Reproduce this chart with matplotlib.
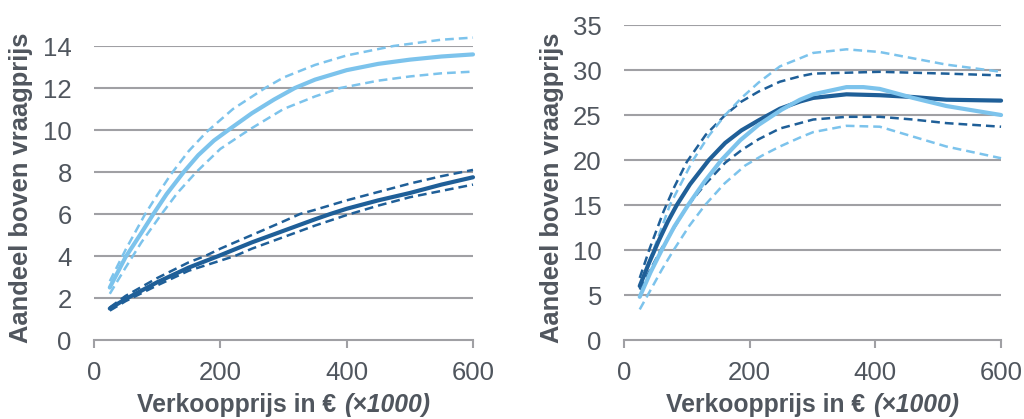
import matplotlib.pyplot as plt
from matplotlib.offsetbox import TextArea, HPacker, AnchoredOffsetbox

plt.rcParams['font.family'] = ['Liberation Sans', 'DejaVu Sans']

LIGHT = '#7cc3ec'
DARK = '#1f5f98'
TEXT = '#50565e'
GRID = '#a0a0a4'

# left panel
l_light_x = [25, 50, 75, 94, 115, 142, 165, 190, 215, 250, 285, 318, 350, 400, 450, 500, 550, 600]
l_light = [2.5, 3.95, 5.1, 6.0, 6.95, 8.0, 8.8, 9.5, 10.05, 10.8, 11.45, 12.0, 12.4, 12.85, 13.15, 13.35, 13.5, 13.6]
l_light_hi_x = [25, 50, 81, 100, 122, 150, 178, 220, 271, 300, 350, 400, 474, 550, 600]
l_light_hi = [2.8, 4.3, 6.0, 6.9, 7.9, 9.0, 9.9, 11.0, 12.0, 12.5, 13.1, 13.55, 14.0, 14.3, 14.4]
l_light_lo_x = [25, 50, 75, 107, 132, 162, 200, 245, 300, 350, 390, 450, 500, 550, 600]
l_light_lo = [2.2, 3.45, 4.65, 6.0, 7.0, 8.0, 9.1, 10.0, 11.0, 11.6, 12.0, 12.35, 12.55, 12.7, 12.78]

l_dark_x = [25, 50, 100, 150, 197, 250, 300, 350, 374, 400, 450, 500, 550, 600]
l_dark = [1.5, 1.95, 2.75, 3.45, 4.0, 4.65, 5.2, 5.75, 6.0, 6.25, 6.65, 7.0, 7.4, 7.75]
l_dark_hi_x = [25, 50, 100, 150, 176, 200, 250, 300, 326, 350, 400, 450, 500, 550, 600]
l_dark_hi = [1.55, 2.1, 2.95, 3.7, 4.0, 4.35, 5.0, 5.65, 6.0, 6.2, 6.65, 7.05, 7.45, 7.8, 8.1]
l_dark_lo_x = [25, 50, 100, 150, 223, 250, 300, 350, 400, 450, 500, 550, 600]
l_dark_lo = [1.4, 1.85, 2.6, 3.3, 4.0, 4.35, 4.9, 5.45, 5.95, 6.4, 6.8, 7.1, 7.4]

# right panel
r_dark_x = [25, 40, 55, 70, 84, 105, 135, 161, 187, 214, 248, 280, 301, 354, 407, 460, 513, 600]
r_dark = [6.0, 8.6, 11.0, 13.2, 15.0, 17.3, 20.0, 21.9, 23.3, 24.4, 25.7, 26.5, 26.9, 27.3, 27.2, 27.0, 26.7, 26.6]
r_dark_hi_x = [25, 41, 63, 80, 100, 130, 161, 187, 214, 248, 280, 301, 354, 407, 460, 513, 600]
r_dark_hi = [6.9, 10.2, 14.3, 17.0, 19.8, 22.8, 25.0, 26.5, 27.6, 28.7, 29.3, 29.6, 29.7, 29.8, 29.7, 29.6, 29.4]
r_dark_lo_x = [25, 60, 100, 129, 161, 187, 214, 248, 280, 301, 354, 407, 460, 513, 600]
r_dark_lo = [5.6, 10.2, 14.8, 17.3, 19.7, 21.1, 22.3, 23.5, 24.1, 24.5, 24.8, 24.8, 24.5, 24.1, 23.7]

r_light_x = [25, 42, 60, 80, 102, 128, 155, 185, 214, 251, 280, 301, 354, 381, 407, 460, 513, 600]
r_light = [4.8, 7.5, 10.0, 12.6, 15.0, 17.6, 20.0, 22.2, 23.9, 25.6, 26.7, 27.3, 28.1, 28.1, 27.9, 26.9, 26.0, 25.0]
r_light_hi_x = [25, 35, 47, 73, 110, 135, 161, 187, 214, 248, 280, 301, 354, 407, 460, 513, 600]
r_light_hi = [5.8, 7.8, 10.0, 15.0, 20.0, 22.7, 25.0, 26.9, 28.6, 30.4, 31.3, 31.9, 32.3, 32.0, 31.3, 30.6, 29.8]
r_light_lo_x = [25, 41, 60, 79, 104, 129, 160, 193, 220, 248, 280, 301, 354, 407, 460, 513, 600]
r_light_lo = [3.4, 5.4, 7.8, 10.0, 12.7, 15.0, 17.4, 19.4, 20.5, 21.5, 22.5, 23.1, 23.8, 23.7, 22.6, 21.5, 20.2]

xticks = [0, 200, 400, 600]
xlabel_main = 'Verkoopprijs in €'
xlabel_unit = '(×1000)'
ylabel = 'Aandeel boven vraagprijs'

fig = plt.figure(figsize=(10.24, 4.19), dpi=100)
ax1 = fig.add_axes([0.0918, 0.1885, 0.3701, 0.7017])
ax2 = fig.add_axes([0.6094, 0.1885, 0.3682, 0.7518])

dash = (0, (3.5, 2))
panels = [
    (ax1, 14, 2, 0.519, [(l_light_x, l_light, l_light_hi_x, l_light_hi, l_light_lo_x, l_light_lo, LIGHT),
                         (l_dark_x, l_dark, l_dark_hi_x, l_dark_hi, l_dark_lo_x, l_dark_lo, DARK)]),
    (ax2, 35, 5, 0.484, [(r_dark_x, r_dark, r_dark_hi_x, r_dark_hi, r_dark_lo_x, r_dark_lo, DARK),
                         (r_light_x, r_light, r_light_hi_x, r_light_hi, r_light_lo_x, r_light_lo, LIGHT)]),
]

for ax, ymax, ystep, ylab_y, series in panels:
    for ys in range(ystep, ymax + 1, ystep):
        ax.axhline(ys, color=GRID, lw=1.5, zorder=0)
    for x, y, xh, yh, xl, yl, c in series:
        ax.plot(xh, yh, color=c, lw=1.8, ls=dash, clip_on=False, zorder=2)
        ax.plot(xl, yl, color=c, lw=1.8, ls=dash, clip_on=False, zorder=2)
        ax.plot(x, y, color=c, lw=3.0, solid_capstyle='round', solid_joinstyle='round',
                clip_on=False, zorder=3)
    ax.set_xlim(0, 600)
    ax.set_ylim(0, ymax)
    ax.set_xticks(xticks)
    ax.set_yticks(range(0, ymax + 1, ystep))
    for s in ['top', 'right', 'left']:
        ax.spines[s].set_visible(False)
    ax.spines['bottom'].set_color(GRID)
    ax.spines['bottom'].set_linewidth(1.5)
    ax.tick_params(axis='x', colors=GRID, length=6, width=1.5, direction='out',
                   labelcolor=TEXT, labelsize=18.5, pad=9)
    ax.tick_params(axis='y', length=0, labelcolor=TEXT, labelsize=18.5, pad=16)
    ax.set_ylabel(ylabel, color=TEXT, fontsize=18.4, fontweight='bold')
    ax.yaxis.set_label_coords(-0.16, ylab_y)

    parts = HPacker(children=[
        TextArea(xlabel_main, textprops=dict(color=TEXT, fontsize=17.8, fontweight='bold')),
        TextArea(xlabel_unit, textprops=dict(color=TEXT, fontsize=17.8, fontweight='bold',
                                             fontstyle='italic')),
    ], pad=0, sep=6, align='baseline')
    cx = (ax.get_position().x0 + ax.get_position().x1) / 2
    box = AnchoredOffsetbox(loc='lower center', child=parts, pad=0, borderpad=0, frameon=False,
                            bbox_to_anchor=(cx, 0.004), bbox_transform=fig.transFigure)
    fig.add_artist(box)

fig.savefig('out.png', dpi=100)
